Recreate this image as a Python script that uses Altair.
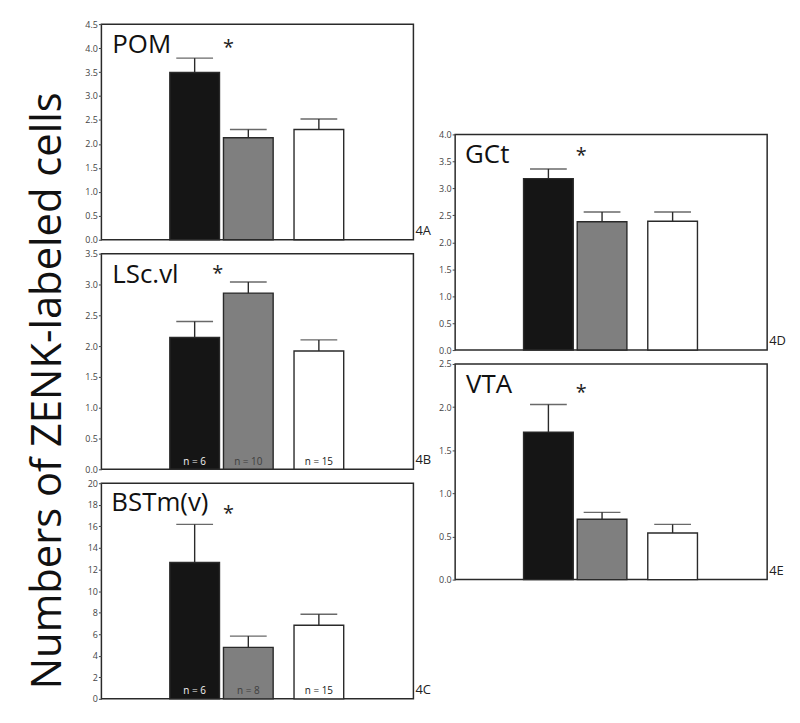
import altair as alt
import pandas as pd

# ---------------- data ----------------
groups = ["black", "grey", "white"]
# black and grey bars stand side by side, the white bar stands apart
pair = ["paired", "paired", "single"]
member = ["first", "second", "first"]

regions = ["POM", "LSc.vl", "BSTm(v)", "GCt", "VTA"]
fig_labels = ["4A", "4B", "4C", "4D", "4E"]

pom_mean = [3.49, 2.13, 2.30]
pom_upper = [3.79, 2.30, 2.52]
lsc_mean = [2.14, 2.86, 1.92]
lsc_upper = [2.40, 3.04, 2.10]
bst_mean = [12.65, 4.77, 6.83]
bst_upper = [16.18, 5.82, 7.85]
gct_mean = [3.18, 2.38, 2.39]
gct_upper = [3.36, 2.56, 2.56]
vta_mean = [1.71, 0.70, 0.54]
vta_upper = [2.03, 0.78, 0.64]

lsc_n = ["n = 6", "n = 10", "n = 15"]
bst_n = ["n = 6", "n = 8", "n = 15"]

pom_ticks = [0.0, 0.5, 1.0, 1.5, 2.0, 2.5, 3.0, 3.5, 4.0, 4.5]
lsc_ticks = [0.0, 0.5, 1.0, 1.5, 2.0, 2.5, 3.0, 3.5]
bst_ticks = [0, 2, 4, 6, 8, 10, 12, 14, 16, 18, 20]
gct_ticks = [0.0, 0.5, 1.0, 1.5, 2.0, 2.5, 3.0, 3.5, 4.0]
vta_ticks = [0.0, 0.5, 1.0, 1.5, 2.0, 2.5]

y_title = "Numbers of ZENK-labeled cells"

# ---------------- style / layout ----------------
W, H = 314, 217
FONT = "Open Sans"
INK = "#2a2a2a"
bar_fill = ["#151515", "#7f7f7f", "#ffffff"]
n_color = ["#f2f2f2", "#3e3e3e", "#1a1a1a"]


def panel(region, fig_label, mean, upper, ticks, fmt, n=None,
          title_xy=(11, 29), star_xy=(128, 22)):
    df = pd.DataFrame({
        "group": groups, "pair": pair, "member": member,
        "mean": mean, "upper": upper,
        "n": n if n is not None else [""] * 3,
    })
    x = alt.X("pair:N", axis=None,
              scale=alt.Scale(domain=["paired", "single"], paddingInner=0.168,
                              paddingOuter=0.34, align=0.81))
    xo = alt.XOffset("member:N",
                     scale=alt.Scale(domain=["first", "second"],
                                     paddingInner=0.074, paddingOuter=0))
    yscale = alt.Scale(domain=[0, ticks[-1]], nice=False, zero=True)
    yaxis = alt.Axis(values=ticks, format=fmt, title=None, grid=False,
                     domain=False, tickSize=3, tickColor="#444",
                     tickWidth=1, labelFontSize=9, labelFont=FONT,
                     labelColor="#444", labelPadding=1,
                     labelOverlap=False, labelFlush=False)
    y_mean = alt.Y("mean:Q", scale=yscale, axis=yaxis)
    y_upper = alt.Y("upper:Q", scale=yscale, axis=yaxis)
    base = alt.Chart(df)
    bars = base.mark_bar(stroke=INK, strokeWidth=1.4).encode(
        x=x, xOffset=xo, y=y_mean,
        fill=alt.Fill("group:N", scale=alt.Scale(domain=groups, range=bar_fill),
                      legend=None))
    stems = base.mark_rule(color=INK, strokeWidth=1.4).encode(
        x=x, xOffset=xo, y=y_mean, y2="upper:Q")
    caps = base.mark_tick(color=INK, thickness=1.4, size=37,
                          orient="horizontal").encode(
        x=x, xOffset=xo, y=y_upper)
    layers = [bars, stems, caps]
    if n is not None:
        layers.append(base.mark_text(fontSize=10, font=FONT,
                                     baseline="alphabetic").encode(
            x=x, xOffset=xo, y=alt.value(H - 4.5), text="n:N",
            color=alt.Color("group:N",
                            scale=alt.Scale(domain=groups, range=n_color),
                            legend=None)))
    title = alt.Chart(pd.DataFrame({"t": [region]})).mark_text(
        align="left", baseline="alphabetic", fontSize=26, font=FONT,
        color="#111").encode(x=alt.value(title_xy[0]),
                             y=alt.value(title_xy[1]), text="t:N")
    star = alt.Chart(pd.DataFrame({"t": ["*"]})).mark_text(
        align="center", baseline="alphabetic", fontSize=20, font=FONT,
        color="#222").encode(x=alt.value(star_xy[0]),
                             y=alt.value(star_xy[1] + 7), text="t:N")
    lab = alt.Chart(pd.DataFrame({"t": [fig_label]})).mark_text(
        align="left", baseline="alphabetic", fontSize=13, font=FONT,
        color="#222").encode(x=alt.value(W + 2), y=alt.value(H - 5),
                             text="t:N")
    layers += [title, star, lab]
    return alt.layer(*layers).properties(width=W, height=H)


pA = panel(regions[0], fig_labels[0], pom_mean, pom_upper, pom_ticks, ".1f",
           title_xy=(11, 29), star_xy=(128, 23))
pB = panel(regions[1], fig_labels[1], lsc_mean, lsc_upper, lsc_ticks, ".1f",
           n=lsc_n, title_xy=(11, 30), star_xy=(117, 19))
pC = panel(regions[2], fig_labels[2], bst_mean, bst_upper, bst_ticks, "d",
           n=bst_n, title_xy=(10, 28), star_xy=(128, 30))
pD = panel(regions[3], fig_labels[3], gct_mean, gct_upper, gct_ticks, ".1f",
           title_xy=(10, 29), star_xy=(127, 21))
pE = panel(regions[4], fig_labels[4], vta_mean, vta_upper, vta_ticks, ".1f",
           title_xy=(11, 29), star_xy=(127, 28))

spacer = alt.Chart(pd.DataFrame({"a": [0]})).mark_point(opacity=0).encode(
    x=alt.value(0), y=alt.value(0)).properties(
    width=W, height=97, view=alt.ViewBackground(stroke="transparent"))

left = alt.vconcat(pA, pB, pC, spacing=14, bounds="flush")
right = alt.vconcat(spacer, pD, pE, spacing=14, bounds="flush")

chart = alt.hconcat(left, right, spacing=5).properties(
    title=alt.TitleParams(y_title, orient="left", anchor="middle",
                          fontSize=42, font=FONT, fontWeight="normal",
                          color="#111", offset=14, dx=-29),
    padding={"left": 19, "top": 9, "right": 5, "bottom": 5},
).configure_view(stroke=INK, strokeWidth=1.5).configure_axis(
    labelOverlap=False)

chart.save("out.html", embed_options={"renderer": "svg", "actions": False})
